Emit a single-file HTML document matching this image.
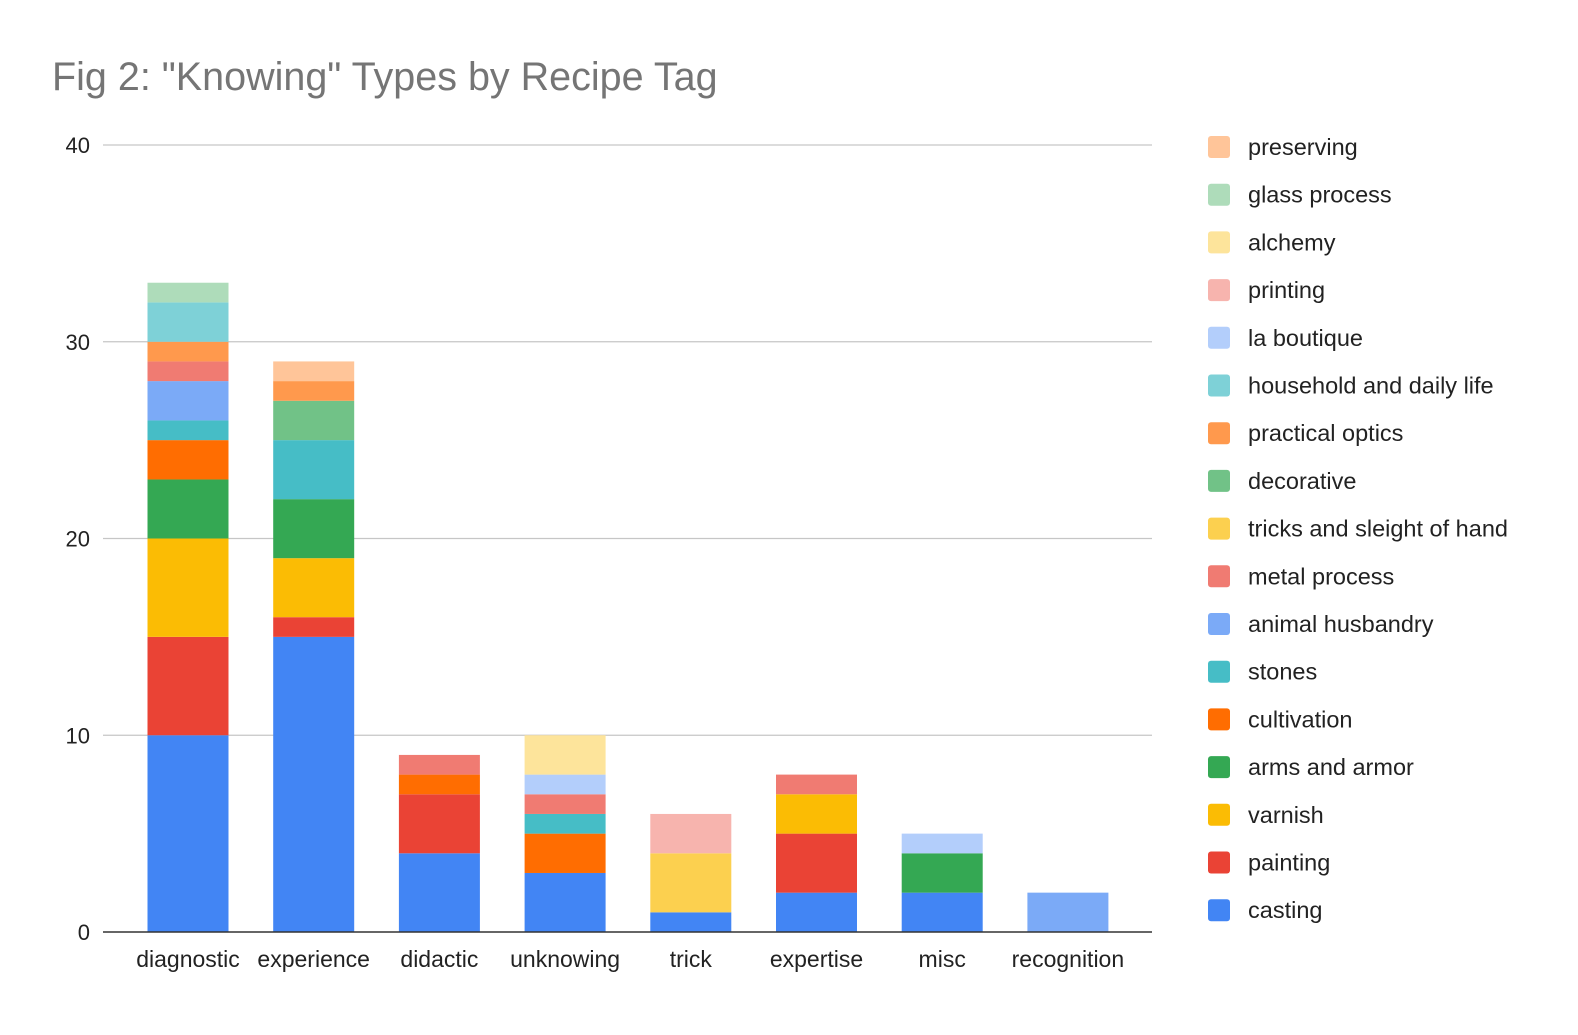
<!DOCTYPE html>
<html><head><meta charset="utf-8"><style>
body{margin:0;background:#fff;}
svg text{font-family:"Liberation Sans",Arial,sans-serif;}
</style></head><body>
<svg id="chart" width="1578" height="1030" xmlns="http://www.w3.org/2000/svg">
<rect width="1578" height="1030" fill="#fff"/>
<text x="52" y="90" font-size="39.5" fill="#757575">Fig 2: "Knowing" Types by Recipe Tag</text>
<g id="grid"></g><g id="bars"></g><g id="legend"></g>
</svg>
<script>
const categories=["diagnostic","experience","didactic","unknowing","trick","expertise","misc","recognition"];
const seriesNames=["casting","painting","varnish","arms and armor","cultivation","stones","animal husbandry","metal process","tricks and sleight of hand","decorative","practical optics","household and daily life","la boutique","printing","alchemy","glass process","preserving"];
const colors=["#4285f4","#ea4335","#fbbc04","#34a853","#ff6d01","#46bdc6","#7baaf7","#f07b72","#fcd04f","#71c287","#ff994d","#7ed1d7","#b3cefb","#f7b4ae","#fde49b","#aedcba","#ffc599"];
const casting=[10,15,4,3,1,2,2,0];
const painting=[5,1,3,0,0,3,0,0];
const varnish=[5,3,0,0,0,2,0,0];
const armsAndArmor=[3,3,0,0,0,0,2,0];
const cultivation=[2,0,1,2,0,0,0,0];
const stones=[1,3,0,1,0,0,0,0];
const animalHusbandry=[2,0,0,0,0,0,0,2];
const metalProcess=[1,0,1,1,0,1,0,0];
const tricks=[0,0,0,0,3,0,0,0];
const decorative=[0,2,0,0,0,0,0,0];
const practicalOptics=[1,1,0,0,0,0,0,0];
const household=[2,0,0,0,0,0,0,0];
const laBoutique=[0,0,0,1,0,0,1,0];
const printing=[0,0,0,0,2,0,0,0];
const alchemy=[0,0,0,2,0,0,0,0];
const glassProcess=[1,0,0,0,0,0,0,0];
const preserving=[0,1,0,0,0,0,0,0];
const yTicks=[0,10,20,30,40];
const series=[casting,painting,varnish,armsAndArmor,cultivation,stones,animalHusbandry,metalProcess,tricks,decorative,practicalOptics,household,laBoutique,printing,alchemy,glassProcess,preserving];

const NS="http://www.w3.org/2000/svg";
const y0=932,y40=145,left=103,right=1152;
const yScale=v=>y0-(y0-y40)*v/40;
const xCenter=i=>188+i*125.7;
const barW=81;
function mk(tag,attrs,parent){const e=document.createElementNS(NS,tag);for(const k in attrs)e.setAttribute(k,attrs[k]);parent.appendChild(e);return e;}
const grid=document.getElementById('grid'),bars=document.getElementById('bars'),legend=document.getElementById('legend');
yTicks.forEach(t=>{
  const y=yScale(t);
  if(t>0){const l=mk('line',{x1:left,x2:right,y1:y,y2:y,stroke:'#c6c6c6','stroke-width':1.3},grid);
  
  }
  const tx=mk('text',{x:90,y:y+8,'font-size':22,'text-anchor':'end',fill:'#222'},grid);tx.textContent=t;
  
  
});
categories.forEach((c,i)=>{
  let acc=0;
  series.forEach((s,k)=>{
    const v=s[i];if(!v)return;
    const r=mk('rect',{x:xCenter(i)-barW/2,y:yScale(acc+v),width:barW,height:yScale(acc)-yScale(acc+v),fill:colors[k]},bars);
    
    
    acc+=v;
  });
  const tx=mk('text',{x:xCenter(i),y:967,'font-size':23,'text-anchor':'middle',fill:'#222'},grid);tx.textContent=c;
  
  
});
const ax=mk('line',{x1:left,x2:right,y1:y0,y2:y0,stroke:'#333','stroke-width':1.5},bars);


for(let k=seriesNames.length-1;k>=0;k--){
  const idx=seriesNames.length-1-k;
  const y=147+idx*47.7;
  const g=mk('g',{},legend);
  
  
  mk('rect',{x:1208,y:y-11,width:22,height:22,rx:3,fill:colors[k]},g);
  const t=mk('text',{x:1248,y:y+8,'font-size':23.5,fill:'#222'},g);t.textContent=seriesNames[k];
}
</script>
</body></html>
